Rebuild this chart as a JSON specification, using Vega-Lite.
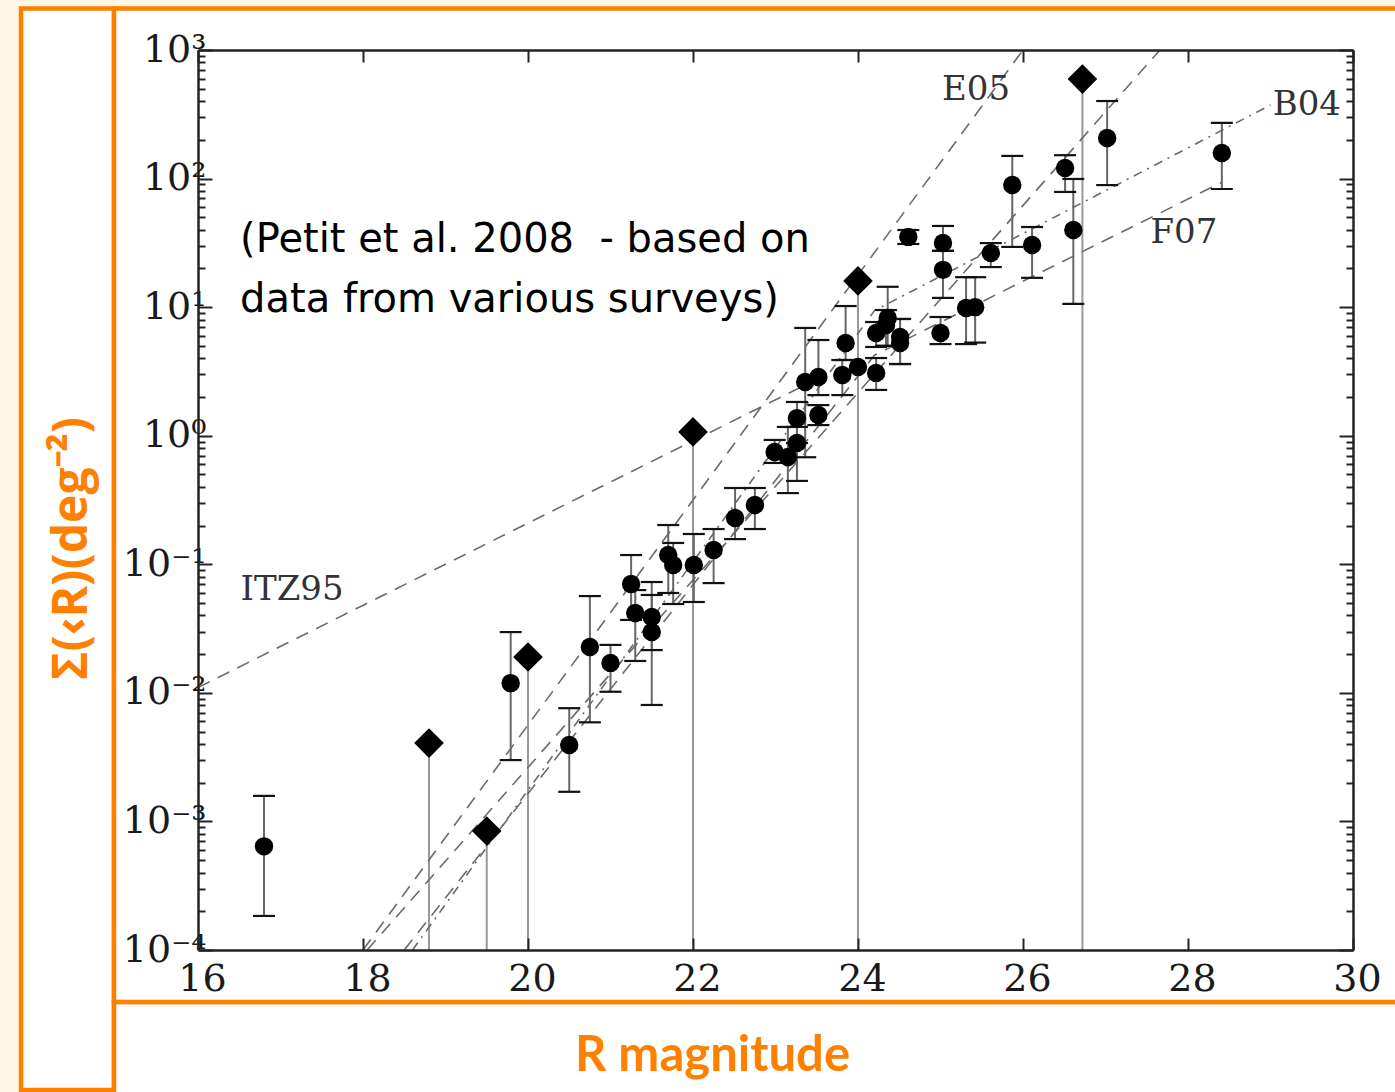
{
  "$schema": "https://vega.github.io/schema/vega-lite/v6.json",
  "width": 1155,
  "height": 900,
  "autosize": "none",
  "padding": {"left": 198, "top": 50, "right": 42, "bottom": 142},
  "background": "#fdf6e3",
  "config": {
    "view": {"stroke": null},
    "axis": {
      "zindex": 1,
      "domainColor": "#222222",
      "domainWidth": 2.5,
      "tickColor": "#222222",
      "tickWidth": 2,
      "grid": false,
      "labelFlush": false,
      "labelOverlap": false
    }
  },
  "datasets": {
    "pts": [
      {"mag": 16.80, "sigma": 0.00064, "lo": 0.000184, "hi": 0.00158},
      {"mag": 19.79, "sigma": 0.0119, "lo": 0.0030, "hi": 0.0297},
      {"mag": 20.50, "sigma": 0.00393, "lo": 0.0017, "hi": 0.0076},
      {"mag": 20.75, "sigma": 0.0227, "lo": 0.0059, "hi": 0.0566},
      {"mag": 21.00, "sigma": 0.0171, "lo": 0.0102, "hi": 0.0236},
      {"mag": 21.25, "sigma": 0.0703, "lo": 0.0369, "hi": 0.118},
      {"mag": 21.30, "sigma": 0.0418, "lo": 0.0177, "hi": 0.063},
      {"mag": 21.50, "sigma": 0.0389, "lo": 0.0215, "hi": 0.0728},
      {"mag": 21.50, "sigma": 0.0297, "lo": 0.00805, "hi": 0.0577},
      {"mag": 21.70, "sigma": 0.118, "lo": 0.0598, "hi": 0.202},
      {"mag": 21.76, "sigma": 0.0986, "lo": 0.0491, "hi": 0.1465},
      {"mag": 22.01, "sigma": 0.0986, "lo": 0.0509, "hi": 0.172},
      {"mag": 22.25, "sigma": 0.129, "lo": 0.0714, "hi": 0.188},
      {"mag": 22.51, "sigma": 0.229, "lo": 0.157, "hi": 0.392},
      {"mag": 22.75, "sigma": 0.289, "lo": 0.188, "hi": 0.392},
      {"mag": 22.99, "sigma": 0.746, "lo": 0.614, "hi": 0.927},
      {"mag": 23.15, "sigma": 0.682, "lo": 0.358, "hi": 1.17},
      {"mag": 23.26, "sigma": 0.877, "lo": 0.445, "hi": 1.17},
      {"mag": 23.26, "sigma": 1.37, "lo": 0.877, "hi": 1.83},
      {"mag": 23.36, "sigma": 2.62, "lo": 0.68, "hi": 6.89},
      {"mag": 23.52, "sigma": 2.86, "lo": 2.07, "hi": 5.55},
      {"mag": 23.52, "sigma": 1.45, "lo": 1.21, "hi": 1.73},
      {"mag": 23.81, "sigma": 2.97, "lo": 2.07, "hi": 3.88},
      {"mag": 23.85, "sigma": 5.26, "lo": 3.88, "hi": 10.2},
      {"mag": 24.00, "sigma": 3.42},
      {"mag": 24.22, "sigma": 3.08, "lo": 2.27, "hi": 4.02},
      {"mag": 24.22, "sigma": 6.29, "lo": 4.90, "hi": 7.66},
      {"mag": 24.34, "sigma": 7.26, "lo": 5.0, "hi": 9.5},
      {"mag": 24.36, "sigma": 8.24, "lo": 5.0, "hi": 14.4},
      {"mag": 24.51, "sigma": 5.86, "lo": 3.61, "hi": 8.09},
      {"mag": 24.51, "sigma": 5.26, "lo": 3.61, "hi": 8.09},
      {"mag": 24.61, "sigma": 35.2, "lo": 31.0, "hi": 39.8},
      {"mag": 25.03, "sigma": 31.5, "lo": 27.4, "hi": 42.8},
      {"mag": 25.03, "sigma": 19.5, "lo": 11.8, "hi": 27.4},
      {"mag": 25.00, "sigma": 6.29, "lo": 5.16, "hi": 8.38},
      {"mag": 25.31, "sigma": 9.85, "lo": 5.16, "hi": 17.1},
      {"mag": 25.42, "sigma": 10.0, "lo": 5.3, "hi": 17.1},
      {"mag": 25.61, "sigma": 26.4, "lo": 20.5, "hi": 31.5},
      {"mag": 25.87, "sigma": 89.1, "lo": 29.4, "hi": 150},
      {"mag": 26.11, "sigma": 30.4, "lo": 16.9, "hi": 42.0},
      {"mag": 26.51, "sigma": 121, "lo": 78.7, "hi": 152},
      {"mag": 26.61, "sigma": 39.8, "lo": 10.6, "hi": 99.3},
      {"mag": 27.02, "sigma": 207, "lo": 89, "hi": 401},
      {"mag": 28.41, "sigma": 158, "lo": 83, "hi": 271}
    ],
    "lim": [
      {"mag": 18.80, "sigma": 0.00407},
      {"mag": 19.50, "sigma": 0.000843},
      {"mag": 20.00, "sigma": 0.0190},
      {"mag": 22.00, "sigma": 1.07},
      {"mag": 24.00, "sigma": 16.0},
      {"mag": 26.72, "sigma": 594}
    ],
    "fits": [
      {"fit": "ITZ95", "mag": 16.0, "sigma": 0.011},
      {"fit": "ITZ95", "mag": 23.5, "sigma": 2.75},
      {"fit": "E05", "mag": 18.0, "sigma": 0.0001},
      {"fit": "E05", "mag": 26.0, "sigma": 1000},
      {"fit": "E05-2", "mag": 18.05, "sigma": 0.0001},
      {"fit": "E05-2", "mag": 27.66, "sigma": 1000},
      {"fit": "F07", "mag": 18.5, "sigma": 0.0001},
      {"fit": "F07", "mag": 24.2, "sigma": 4.23},
      {"fit": "F07", "mag": 28.4, "sigma": 93},
      {"fit": "B04", "mag": 18.6, "sigma": 0.0001},
      {"fit": "B04", "mag": 24.2, "sigma": 9.4},
      {"fit": "B04", "mag": 29.0, "sigma": 373}
    ],
    "tags": [
      {"tag": "ITZ95", "mag": 17.14, "sigma": 0.063},
      {"tag": "E05", "mag": 25.43, "sigma": 489},
      {"tag": "B04", "mag": 29.44, "sigma": 373},
      {"tag": "F07", "mag": 27.95, "sigma": 37.8}
    ],
    "note": [
      {"text": "(Petit et al. 2008\u00a0 - based on", "mag": 16.51, "sigma": 33.3},
      {"text": "data from various surveys)", "mag": 16.51, "sigma": 11.4}
    ]
  },
  "layer": [
    {
      "data": {"values": [{}]},
      "mark": {"type": "rect", "fill": "white", "stroke": "#ff8000", "strokeWidth": 4.5},
      "encoding": {
        "x": {"datum": 13.855, "type": "quantitative", "scale": {"domain": [16, 30], "nice": false, "zero": false}, "axis": null},
        "x2": {"datum": 14.982},
        "y": {"datum": 0.00000815, "type": "quantitative", "scale": {"type": "log", "domain": [0.0001, 1000], "nice": false}, "axis": null},
        "y2": {"datum": 2103}
      }
    },
    {
      "data": {"values": [{}]},
      "mark": {"type": "rect", "fill": "white", "stroke": "#ff8000", "strokeWidth": 4.5},
      "encoding": {
        "x": {"datum": 14.982, "type": "quantitative", "scale": {"domain": [16, 30], "nice": false, "zero": false}, "axis": null},
        "x2": {"datum": 30.8},
        "y": {"datum": 0.000005, "type": "quantitative", "scale": {"type": "log", "domain": [0.0001, 1000], "nice": false}, "axis": null},
        "y2": {"datum": 0.0000394}
      }
    },
    {
      "data": {"values": [{}]},
      "mark": {"type": "rect", "fill": "white", "stroke": "#ff8000", "strokeWidth": 4.5},
      "encoding": {
        "x": {"datum": 14.982, "type": "quantitative", "scale": {"domain": [16, 30], "nice": false, "zero": false}, "axis": null},
        "x2": {"datum": 30.8},
        "y": {"datum": 0.0000394, "type": "quantitative", "scale": {"type": "log", "domain": [0.0001, 1000], "nice": false}, "axis": null},
        "y2": {"datum": 2103}
      }
    },
    {
      "data": {"name": "lim"},
      "mark": {"type": "rule", "color": "#999999", "strokeWidth": 2},
      "encoding": {
        "x": {"field": "mag", "type": "quantitative", "scale": {"domain": [16, 30], "nice": false, "zero": false}, "axis": null},
        "y": {"field": "sigma", "type": "quantitative", "scale": {"type": "log", "domain": [0.0001, 1000], "nice": false}, "axis": null},
        "y2": {"datum": 0.0001}
      }
    },
    {
      "data": {"name": "fits"},
      "mark": {"type": "line", "color": "#6b6b6b", "strokeWidth": 1.6, "clip": true},
      "encoding": {
        "x": {"field": "mag", "type": "quantitative", "scale": {"domain": [16, 30], "nice": false, "zero": false}, "axis": null},
        "y": {"field": "sigma", "type": "quantitative", "scale": {"type": "log", "domain": [0.0001, 1000], "nice": false}, "axis": null},
        "detail": {"field": "fit", "type": "nominal"},
        "strokeDash": {
          "field": "fit", "type": "nominal", "legend": null,
          "scale": {"domain": ["ITZ95", "E05", "E05-2", "F07", "B04"], "range": [[13, 9], [13, 9], [13, 9], [13, 9], [9, 6, 2, 6]]}
        }
      }
    },
    {
      "data": {"name": "pts"},
      "mark": {"type": "rule", "color": "#666666", "strokeWidth": 2},
      "encoding": {
        "x": {"field": "mag", "type": "quantitative", "scale": {"domain": [16, 30], "nice": false, "zero": false}, "axis": null},
        "y": {"field": "lo", "type": "quantitative", "scale": {"type": "log", "domain": [0.0001, 1000], "nice": false}, "axis": null},
        "y2": {"field": "hi"}
      }
    },
    {
      "data": {"name": "pts"},
      "mark": {"type": "tick", "orient": "horizontal", "color": "#111111", "size": 22, "thickness": 2.2, "opacity": 1},
      "encoding": {
        "x": {"field": "mag", "type": "quantitative", "scale": {"domain": [16, 30], "nice": false, "zero": false}, "axis": null},
        "y": {"field": "lo", "type": "quantitative", "scale": {"type": "log", "domain": [0.0001, 1000], "nice": false}, "axis": null}
      }
    },
    {
      "data": {"name": "pts"},
      "mark": {"type": "tick", "orient": "horizontal", "color": "#111111", "size": 22, "thickness": 2.2, "opacity": 1},
      "encoding": {
        "x": {"field": "mag", "type": "quantitative", "scale": {"domain": [16, 30], "nice": false, "zero": false}, "axis": null},
        "y": {"field": "hi", "type": "quantitative", "scale": {"type": "log", "domain": [0.0001, 1000], "nice": false}, "axis": null}
      }
    },
    {
      "data": {"name": "pts"},
      "mark": {"type": "point", "shape": "circle", "filled": true, "color": "black", "opacity": 1, "size": 340},
      "encoding": {
        "x": {
          "field": "mag", "type": "quantitative",
          "scale": {"domain": [16, 30], "nice": false, "zero": false},
          "axis": {
            "orient": "bottom",
            "zindex": 2,
            "values": [16, 18, 20, 22, 24, 26, 28, 30],
            "tickSize": -12,
            "labelFont": "DejaVu Serif",
            "labelFontSize": 38,
            "labelColor": "#1a1a1a",
            "labelPadding": 22,
            "labelOffset": 4,
            "title": "R magnitude",
            "titleFont": "Lato",
            "titleFontWeight": "bold",
            "titleFontSize": 49,
            "titleColor": "#ff8000",
            "titleX": 514,
            "titleY": 120,
            "titleAlign": "center",
            "titleBaseline": "alphabetic"
          }
        },
        "y": {
          "field": "sigma", "type": "quantitative",
          "scale": {"type": "log", "domain": [0.0001, 1000], "nice": false},
          "axis": {
            "orient": "left",
            "zindex": 2,
            "values": [0.0001, 0.0002, 0.0003, 0.0004, 0.0005, 0.0006, 0.0007, 0.0008, 0.0009,
                       0.001, 0.002, 0.003, 0.004, 0.005, 0.006, 0.007, 0.008, 0.009,
                       0.01, 0.02, 0.03, 0.04, 0.05, 0.06, 0.07, 0.08, 0.09,
                       0.1, 0.2, 0.3, 0.4, 0.5, 0.6, 0.7, 0.8, 0.9,
                       1, 2, 3, 4, 5, 6, 7, 8, 9,
                       10, 20, 30, 40, 50, 60, 70, 80, 90,
                       100, 200, 300, 400, 500, 600, 700, 800, 900, 1000],
            "tickSize": {"condition": {"test": "abs(log(datum.value)/LN10 - round(log(datum.value)/LN10)) < 0.001", "value": -14}, "value": -7},
            "labelExpr": "abs(log(datum.value)/LN10 - round(log(datum.value)/LN10)) < 0.001 ? '10' + ['⁻⁴','⁻³','⁻²','⁻¹','⁰','¹','²','³'][round(log(datum.value)/LN10) + 4] : ''",
            "labelFont": "DejaVu Serif",
            "labelFontSize": 38,
            "labelColor": "#1a1a1a",
            "labelPadding": 6,
            "labelBaseline": "middle",
            "title": "Σ(‹R)(deg⁻²)",
            "titleFont": "Open Sans",
            "titleFontWeight": "bold",
            "titleFontSize": 48,
            "titleColor": "#ff8000",
            "titleAngle": -90,
            "titleX": -112,
            "titleY": 498,
            "titleAlign": "center",
            "titleBaseline": "alphabetic"
          }
        }
      }
    },
    {
      "data": {"name": "lim"},
      "mark": {"type": "point", "shape": "diamond", "filled": true, "color": "black", "opacity": 1, "size": 880},
      "encoding": {
        "x": {
          "field": "mag", "type": "quantitative",
          "scale": {"domain": [16, 30], "nice": false, "zero": false},
          "axis": {"orient": "top", "zindex": 2, "values": [16, 18, 20, 22, 24, 26, 28, 30], "tickSize": -12, "labels": false, "title": null}
        },
        "y": {
          "field": "sigma", "type": "quantitative",
          "scale": {"type": "log", "domain": [0.0001, 1000], "nice": false},
          "axis": {
            "orient": "right",
            "zindex": 2,
            "values": [0.0001, 0.0002, 0.0003, 0.0004, 0.0005, 0.0006, 0.0007, 0.0008, 0.0009,
                       0.001, 0.002, 0.003, 0.004, 0.005, 0.006, 0.007, 0.008, 0.009,
                       0.01, 0.02, 0.03, 0.04, 0.05, 0.06, 0.07, 0.08, 0.09,
                       0.1, 0.2, 0.3, 0.4, 0.5, 0.6, 0.7, 0.8, 0.9,
                       1, 2, 3, 4, 5, 6, 7, 8, 9,
                       10, 20, 30, 40, 50, 60, 70, 80, 90,
                       100, 200, 300, 400, 500, 600, 700, 800, 900, 1000],
            "tickSize": {"condition": {"test": "abs(log(datum.value)/LN10 - round(log(datum.value)/LN10)) < 0.001", "value": -14}, "value": -7},
            "labels": false,
            "title": null
          }
        }
      }
    },
    {
      "data": {"name": "tags"},
      "mark": {"type": "text", "font": "DejaVu Serif", "fontSize": 34, "color": "#333333", "align": "center", "baseline": "middle"},
      "encoding": {
        "x": {"field": "mag", "type": "quantitative", "scale": {"domain": [16, 30], "nice": false, "zero": false}, "axis": null},
        "y": {"field": "sigma", "type": "quantitative", "scale": {"type": "log", "domain": [0.0001, 1000], "nice": false}, "axis": null},
        "text": {"field": "tag"}
      }
    },
    {
      "data": {"name": "note"},
      "mark": {"type": "text", "font": "DejaVu Sans", "fontSize": 40, "color": "black", "align": "left", "baseline": "middle"},
      "encoding": {
        "x": {"field": "mag", "type": "quantitative", "scale": {"domain": [16, 30], "nice": false, "zero": false}, "axis": null},
        "y": {"field": "sigma", "type": "quantitative", "scale": {"type": "log", "domain": [0.0001, 1000], "nice": false}, "axis": null},
        "text": {"field": "text"}
      }
    }
  ],
  "resolve": {"axis": {"x": "independent", "y": "independent"}}
}
